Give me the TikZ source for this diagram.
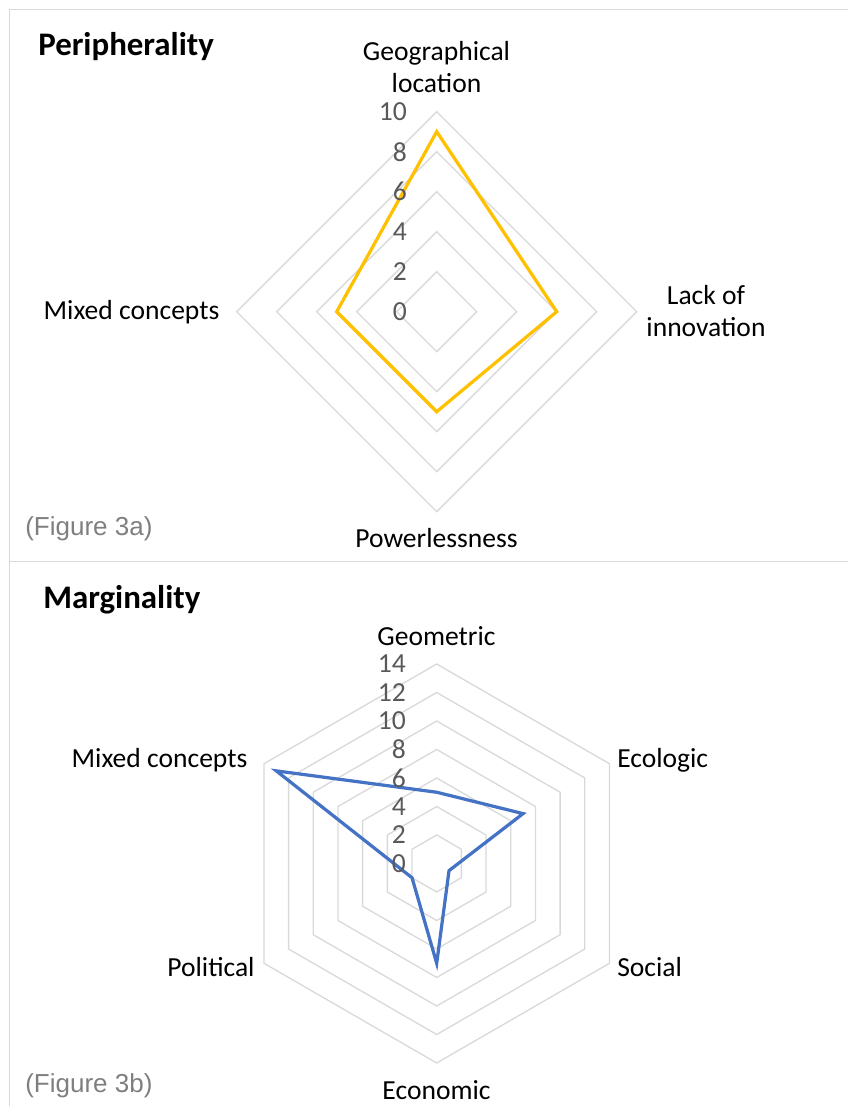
\documentclass[tikz,border=0pt]{standalone}
\usepackage{fontspec}
\setmainfont{Carlito}
\newfontfamily\figfont{Liberation Sans}
\usepackage{tikz}
\definecolor{gridgray}{HTML}{D9D9D9}
\definecolor{numgray}{HTML}{595959}
\definecolor{figgray}{HTML}{7F7F7F}
\definecolor{periyellow}{HTML}{FFC000}
\definecolor{margblue}{HTML}{4472C4}

\begin{document}
\begin{tikzpicture}[x=0.025cm,y=0.025cm,
  frame/.style={draw=gridgray,line width=1pt},
  webline/.style={draw=gridgray,line width=0.95pt},
  periline/.style={draw=periyellow,line width=2.3pt,line join=miter},
  margline/.style={draw=margblue,line width=2.3pt,line join=miter},
  axlab/.style={inner sep=0pt,font=\fontsize{19.6}{22.8}\selectfont,align=center},
  ticknum/.style={inner sep=0pt,anchor=east,text=numgray,font=\fontsize{19.6}{22.8}\selectfont},
  charttitle/.style={inner sep=0pt,anchor=west,font=\fontsize{23.4}{28}\selectfont\bfseries},
  figlab/.style={inner sep=0pt,anchor=west,text=figgray,font=\fontsize{18.5}{22}\selectfont\figfont}]
\useasboundingbox (0,0) rectangle (848,1106);

% Frame
\draw[frame] (9.3,0) -- (9.3,1096.7) -- (848,1096.7);
\draw[frame] (9.3,544.5) -- (848,544.5);

% Peripherality
\node[charttitle] (peritle) at (38,1059) {Peripherality};
\begin{scope}[shift={(436.7,794.3)}]
\draw[webline] (90:40) -- (0:40) -- (-90:40) -- (180:40) -- cycle;
\draw[webline] (90:80) -- (0:80) -- (-90:80) -- (180:80) -- cycle;
\draw[webline] (90:120) -- (0:120) -- (-90:120) -- (180:120) -- cycle;
\draw[webline] (90:160) -- (0:160) -- (-90:160) -- (180:160) -- cycle;
\draw[webline] (90:200) -- (0:200) -- (-90:200) -- (180:200) -- cycle;
\draw[periline] (90:180) -- (0:120) -- (-90:100) -- (180:100) -- cycle;
\foreach \v in {0,2,...,10}
  \node[ticknum] (pn\v) at (-29.7,20*\v) {\v};
\end{scope}
\node[axlab] (geo) at (436.5,1039) {Geographical\\location};
\node[axlab] (innov) at (706,795) {Lack of\\innovation};
\node[axlab] (pmixed) at (131.5,794) {Mixed concepts};
\node[axlab] (power) at (436.5,568) {Powerlessness};
\node[figlab] (fig3a) at (25,577) {(Figure 3a)};

% Marginality
\node[charttitle] (margtitle) at (43,506) {Marginality};
\begin{scope}[shift={(436.7,242.5)}]
\foreach \r in {28.5,57,85.5,114,142.5,171,199.5}
  \draw[webline] (90:\r) -- (30:\r) -- (-30:\r) -- (-90:\r) -- (-150:\r) -- (150:\r) -- cycle;
\draw[margline] (90:71.25) -- (30:99.75) -- (-30:14.25) -- (-90:99.75) -- (-150:28.5) -- (150:185.25) -- cycle;
\foreach \v in {0,2,...,14}
  \node[ticknum] (mn\v) at (-30.7,14.25*\v) {\v};
\end{scope}
\node[axlab] (geom) at (436.5,470) {Geometric};
\node[axlab,anchor=west] (ecol) at (617,346) {Ecologic};
\node[axlab,anchor=west] (soc) at (617,139) {Social};
\node[axlab] (econ) at (436.5,16) {Economic};
\node[axlab] (polit) at (211,139) {Political};
\node[axlab] (mmixed) at (159.5,346) {Mixed concepts};
\node[figlab] (fig3b) at (25,20) {(Figure 3b)};

\end{tikzpicture}
\end{document}
